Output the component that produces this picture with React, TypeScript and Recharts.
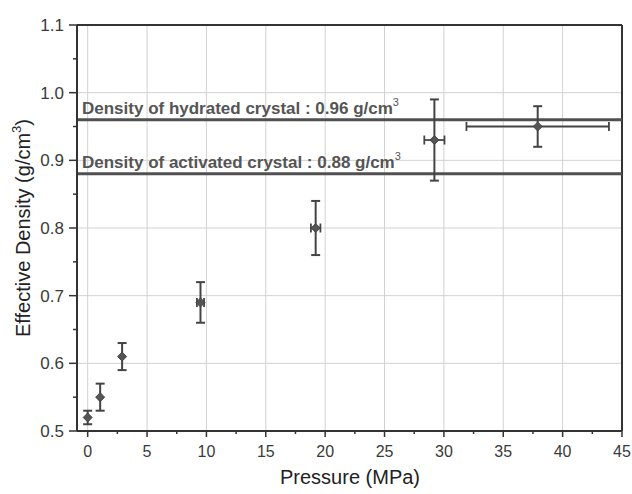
import React from "react"
import {
    ScatterChart,
    Scatter,
    XAxis,
    YAxis,
    ErrorBar,
    ReferenceLine,
} from "recharts"

// measured points: pressure (MPa), effective density (g/cm3) and their errors
const pressure = [0, 1.05, 2.9, 9.5, 19.2, 29.2, 37.9]
const density = [0.52, 0.55, 0.61, 0.69, 0.8, 0.93, 0.95]
const pressureErr = [null, null, null, 0.3, 0.4, 0.85, 6]
const densityErr = [0.01, 0.02, 0.02, 0.03, 0.04, 0.06, 0.03]

const xMajor = [0, 5, 10, 15, 20, 25, 30, 35, 40, 45]
const xTicks = [0, 2.5, 5, 7.5, 10, 12.5, 15, 17.5, 20, 22.5, 25, 27.5, 30, 32.5, 35, 37.5, 40, 42.5, 45]
const yMajor = [0.5, 0.6, 0.7, 0.8, 0.9, 1.0, 1.1]
const yTicks = [0.5, 0.55, 0.6, 0.65, 0.7, 0.75, 0.8, 0.85, 0.9, 0.95, 1.0, 1.05, 1.1]
const gridX = [0, 5, 10, 15, 20, 25, 30, 35, 40]
const gridY = [0.6, 0.7, 0.8, 0.9, 1.0]

const crystalLines = [
    { y: 0.96, label: "Density of hydrated crystal : 0.96 g/cm" },
    { y: 0.88, label: "Density of activated crystal : 0.88 g/cm" },
]

const data = pressure.map((x, i) => ({
    x,
    y: density[i],
    xErr: pressureErr[i],
    yErr: densityErr[i],
}))

const FONT = "'Liberation Sans', Arial, sans-serif"
const INK = "#333"

const isMajor = (list: number[], v: number) => list.some((m) => Math.abs(m - v) < 1e-6)

function XTick(props: any) {
    const { x, y, payload } = props
    const major = isMajor(xMajor, payload.value)
    return (
        <g>
            <line x1={x} x2={x} y1={y} y2={y + (major ? 6 : 3)} stroke={INK} strokeWidth={1.5} />
            {major && (
                <text x={x} y={y + 26} textAnchor="middle" fontSize={16} fill="#3a3a3a" fontFamily={FONT}>
                    {payload.value}
                </text>
            )}
        </g>
    )
}

function YTick(props: any) {
    const { x, y, payload } = props
    const major = isMajor(yMajor, payload.value)
    return (
        <g>
            <line x1={x} x2={x - (major ? 8 : 4)} y1={y} y2={y} stroke={INK} strokeWidth={1.5} />
            {major && (
                <text x={x - 13} y={y + 6} textAnchor="end" fontSize={17} fill="#3a3a3a" fontFamily={FONT}>
                    {payload.value.toFixed(1)}
                </text>
            )}
        </g>
    )
}

function Diamond(props: any) {
    const { cx, cy } = props
    const r = 4.5
    return (
        <polygon
            points={`${cx},${cy - r} ${cx + r},${cy} ${cx},${cy + r} ${cx - r},${cy}`}
            fill="#555"
            stroke="#444"
            strokeWidth={1}
        />
    )
}

function LineLabel({ viewBox, text }: any) {
    return (
        <text x={viewBox.x + 5} y={viewBox.y - 6} fontSize={17} fontWeight="bold" fill="#555" fontFamily={FONT}>
            {text}
            <tspan dy={-8} fontSize={11} fontWeight="normal">3</tspan>
        </text>
    )
}

export default function App() {
    return (
        <div style={{ position: "absolute", left: 0, top: 0, width: 632, height: 494, background: "#fff" }}>
            <ScatterChart width={632} height={494} margin={{ top: 25, right: 10, left: 0, bottom: 0 }}>
                <XAxis
                    dataKey="x"
                    type="number"
                    domain={[-0.9, 45]}
                    ticks={xTicks}
                    interval={0}
                    allowDataOverflow
                    height={63}
                    tickSize={0}
                    tickMargin={0}
                    tickLine={false}
                    axisLine={{ stroke: INK, strokeWidth: 2 }}
                    tick={(p: any) => <XTick {...p} />}
                />
                <YAxis
                    dataKey="y"
                    type="number"
                    domain={[0.5, 1.1]}
                    ticks={yTicks}
                    interval={0}
                    allowDataOverflow
                    width={77}
                    tickSize={0}
                    tickMargin={0}
                    tickLine={false}
                    axisLine={{ stroke: INK, strokeWidth: 2 }}
                    tick={(p: any) => <YTick {...p} />}
                />
                {gridX.map((v) => (
                    <ReferenceLine key={`gx${v}`} x={v} stroke="#d2d2d2" strokeWidth={1} />
                ))}
                {gridY.map((v) => (
                    <ReferenceLine key={`gy${v}`} y={v} stroke="#d2d2d2" strokeWidth={1} />
                ))}
                <ReferenceLine x={45} stroke={INK} strokeWidth={2} />
                <ReferenceLine y={1.1} stroke={INK} strokeWidth={2} />
                {crystalLines.map((c) => (
                    <ReferenceLine
                        key={c.label}
                        y={c.y}
                        stroke="#505050"
                        strokeWidth={3}
                        label={(p: any) => <LineLabel {...p} text={c.label} />}
                    />
                ))}
                <Scatter data={data} shape={(p: any) => <Diamond {...p} />} isAnimationActive={false}>
                    <ErrorBar dataKey="yErr" direction="y" width={4.5} stroke="#444" strokeWidth={2} />
                    <ErrorBar dataKey="xErr" direction="x" width={4.5} stroke="#444" strokeWidth={1.8} />
                </Scatter>
            </ScatterChart>
            <div
                style={{
                    position: "absolute",
                    left: 0,
                    top: 466,
                    width: 632,
                    paddingLeft: 68,
                    boxSizing: "border-box",
                    textAlign: "center",
                    fontFamily: FONT,
                    fontSize: 20,
                    color: "#222",
                }}
            >
                Pressure (MPa)
            </div>
            <svg width={40} height={494} style={{ position: "absolute", left: 0, top: 0 }}>
                <text
                    transform="translate(30,228) rotate(-90)"
                    textAnchor="middle"
                    fontSize={20}
                    fill="#222"
                    fontFamily={FONT}
                >
                    Effective Density (g/cm
                    <tspan dy={-9} fontSize={13}>3</tspan>
                    <tspan dy={9}>)</tspan>
                </text>
            </svg>
        </div>
    )
}
